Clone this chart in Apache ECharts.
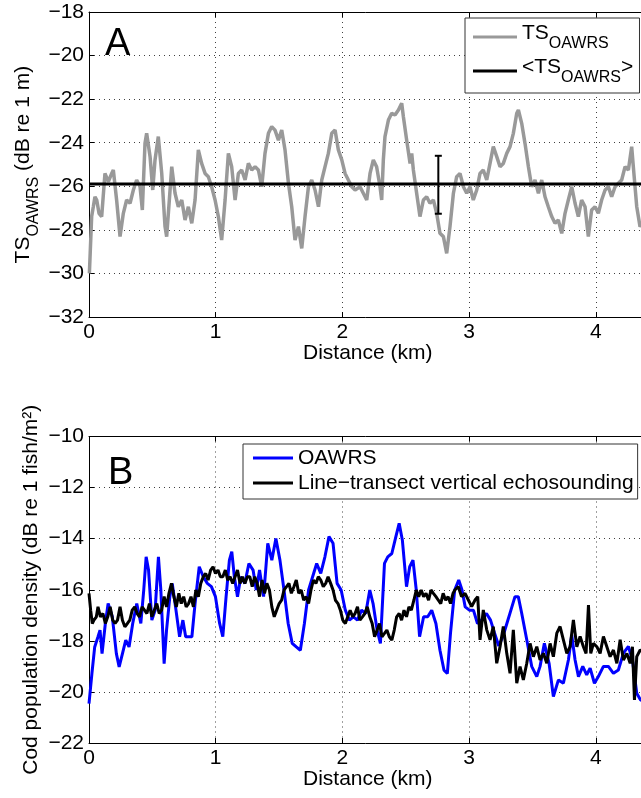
<!DOCTYPE html>
<html>
<head>
<meta charset="utf-8">
<script src="https://cdn.jsdelivr.net/npm/echarts@6/dist/echarts.min.js"></script>
<style>
html,body{margin:0;padding:0;background:#fff;}
#c{width:641px;height:798px;}
</style>
</head>
<body>
<div id="c"></div>
<script>
// ---------- Panel A: TS_OAWRS along the transect ----------
const tsKm = [0.003,0.021,0.034,0.047,0.061,0.079,0.100,0.126,0.153,0.179,0.192,0.218,0.245,0.271,0.297,0.324,0.350,0.376,0.403,0.421,0.442,0.455,0.482,0.503,0.521,0.547,0.574,0.600,0.613,0.634,0.653,0.679,0.705,0.732,0.758,0.784,0.811,0.837,0.863,0.889,0.916,0.942,0.968,0.995,1.021,1.047,1.074,1.100,1.126,1.153,1.179,1.205,1.232,1.258,1.284,1.311,1.337,1.363,1.389,1.416,1.442,1.468,1.495,1.521,1.547,1.574,1.600,1.626,1.653,1.679,1.705,1.732,1.758,1.784,1.811,1.837,1.863,1.889,1.916,1.942,1.968,1.995,2.021,2.047,2.074,2.100,2.139,2.165,2.192,2.218,2.244,2.270,2.297,2.310,2.323,2.336,2.363,2.389,2.415,2.442,2.468,2.481,2.507,2.534,2.547,2.560,2.586,2.612,2.639,2.665,2.691,2.718,2.744,2.770,2.797,2.823,2.849,2.876,2.902,2.928,2.955,2.981,3.007,3.033,3.060,3.086,3.112,3.139,3.165,3.191,3.218,3.244,3.270,3.297,3.323,3.349,3.376,3.389,3.415,3.441,3.468,3.494,3.520,3.547,3.573,3.599,3.625,3.652,3.678,3.704,3.731,3.757,3.783,3.810,3.836,3.862,3.888,3.915,3.941,3.967,3.994,4.020,4.046,4.073,4.099,4.125,4.152,4.178,4.204,4.231,4.257,4.283,4.296,4.323,4.349,4.375,4.400];
const tsDb = [-30.0,-27.39,-26.94,-26.48,-26.63,-27.24,-27.39,-25.41,-25.79,-25.41,-25.25,-26.63,-28.31,-27.24,-26.63,-26.78,-26.17,-25.71,-26.02,-27.09,-24.03,-23.57,-24.64,-26.17,-24.79,-23.72,-25.41,-27.85,-28.31,-26.63,-25.10,-26.32,-26.94,-26.63,-27.55,-26.94,-27.70,-26.63,-24.33,-24.95,-25.41,-25.56,-26.02,-26.63,-27.39,-28.47,-26.63,-24.49,-25.10,-26.63,-25.41,-25.25,-25.71,-24.95,-25.25,-25.10,-25.25,-26.02,-24.49,-23.57,-23.26,-23.42,-23.88,-23.42,-24.33,-25.86,-26.94,-28.47,-27.85,-28.85,-27.39,-26.02,-25.71,-26.17,-26.94,-25.71,-25.10,-24.49,-23.57,-23.42,-24.33,-24.79,-25.41,-25.71,-26.02,-26.17,-26.02,-26.32,-26.63,-25.41,-24.79,-25.10,-26.02,-26.63,-24.79,-23.72,-22.96,-22.65,-22.73,-22.50,-22.19,-22.80,-23.88,-24.95,-24.49,-25.25,-26.32,-27.39,-26.63,-26.48,-26.78,-26.63,-27.24,-28.16,-28.31,-29.08,-27.85,-26.32,-25.56,-25.41,-26.02,-26.32,-26.02,-26.63,-26.17,-25.41,-25.25,-25.71,-24.95,-24.18,-24.64,-25.10,-24.95,-24.49,-24.18,-23.57,-22.65,-22.50,-23.11,-24.03,-25.10,-26.02,-25.71,-26.32,-25.71,-26.48,-26.94,-27.39,-27.70,-27.55,-28.16,-27.24,-26.63,-26.02,-26.78,-27.39,-26.63,-26.94,-28.31,-27.09,-26.94,-27.24,-26.63,-26.17,-26.02,-26.48,-26.02,-25.86,-25.71,-25.10,-25.25,-24.18,-25.10,-26.94,-27.85,-27.60,-27.40];
const tsMean = -25.9;
const errBar = [2.757, -27.26, -24.6]; // x, low, high

// ---------- Panel B: cod population density ----------
const oawrsKm = [0.000,0.023,0.045,0.071,0.087,0.103,0.129,0.151,0.184,0.216,0.238,0.264,0.290,0.316,0.345,0.377,0.409,0.432,0.451,0.470,0.496,0.522,0.548,0.567,0.593,0.612,0.638,0.657,0.683,0.715,0.741,0.763,0.786,0.812,0.837,0.870,0.902,0.934,0.966,0.998,1.031,1.056,1.082,1.108,1.127,1.147,1.172,1.198,1.230,1.262,1.295,1.320,1.346,1.378,1.411,1.443,1.475,1.507,1.539,1.572,1.604,1.636,1.668,1.700,1.733,1.765,1.797,1.829,1.862,1.894,1.926,1.958,1.990,2.023,2.055,2.087,2.119,2.151,2.184,2.216,2.242,2.274,2.300,2.332,2.358,2.390,2.422,2.448,2.473,2.506,2.531,2.557,2.583,2.609,2.641,2.673,2.705,2.738,2.770,2.802,2.828,2.853,2.886,2.918,2.944,2.969,3.002,3.034,3.066,3.098,3.137,3.169,3.201,3.234,3.266,3.298,3.330,3.362,3.388,3.415,3.455,3.494,3.534,3.560,3.594,3.631,3.665,3.705,3.744,3.784,3.810,3.836,3.863,3.897,3.928,3.955,3.989,4.020,4.060,4.099,4.139,4.178,4.218,4.257,4.289,4.323,4.352,4.400];
const oawrsDb = [-20.46,-19.28,-18.24,-17.84,-17.58,-18.50,-17.32,-16.54,-17.06,-18.50,-19.02,-18.50,-17.97,-18.24,-17.32,-16.54,-17.32,-16.01,-14.71,-15.23,-17.19,-16.80,-14.71,-16.01,-18.89,-17.58,-16.27,-15.75,-16.67,-17.84,-17.19,-17.84,-17.84,-17.84,-16.54,-15.10,-15.49,-15.75,-15.88,-16.27,-17.32,-17.84,-16.27,-14.84,-14.51,-15.49,-16.27,-15.49,-15.75,-14.97,-15.23,-16.01,-15.23,-16.27,-14.18,-14.84,-13.99,-14.84,-16.01,-17.32,-18.10,-18.24,-18.37,-17.32,-16.01,-15.49,-14.97,-15.36,-14.71,-13.92,-14.18,-15.75,-16.01,-16.80,-17.19,-17.06,-17.19,-16.80,-16.93,-16.01,-16.54,-17.58,-18.10,-14.97,-14.71,-14.58,-13.92,-13.40,-14.05,-15.88,-15.10,-14.84,-16.01,-17.84,-17.06,-17.06,-16.80,-17.32,-18.37,-19.15,-19.28,-17.71,-16.01,-15.62,-16.01,-16.67,-16.80,-16.80,-17.32,-17.19,-16.93,-17.19,-17.70,-18.20,-17.84,-17.32,-16.80,-16.27,-16.27,-16.92,-17.96,-19.00,-19.40,-19.00,-18.10,-18.88,-20.18,-19.53,-19.66,-18.74,-17.77,-18.74,-19.40,-19.00,-19.33,-19.07,-19.66,-19.40,-19.00,-19.00,-19.27,-19.14,-18.48,-18.22,-18.74,-20.05,-20.31,-20.40];

const echoKm = [0.000,0.013,0.026,0.039,0.058,0.071,0.090,0.110,0.129,0.148,0.167,0.187,0.206,0.225,0.245,0.264,0.283,0.303,0.322,0.341,0.361,0.380,0.399,0.419,0.438,0.457,0.477,0.496,0.515,0.535,0.554,0.573,0.593,0.612,0.631,0.651,0.670,0.689,0.709,0.728,0.747,0.767,0.786,0.805,0.824,0.844,0.863,0.882,0.902,0.921,0.940,0.960,0.979,0.998,1.018,1.037,1.056,1.076,1.095,1.114,1.134,1.153,1.172,1.192,1.211,1.230,1.250,1.269,1.288,1.308,1.327,1.346,1.366,1.385,1.404,1.424,1.443,1.462,1.481,1.501,1.520,1.539,1.559,1.578,1.597,1.617,1.636,1.655,1.675,1.694,1.713,1.733,1.752,1.771,1.791,1.810,1.829,1.849,1.868,1.887,1.907,1.926,1.945,1.965,1.984,2.003,2.023,2.042,2.061,2.081,2.100,2.119,2.138,2.158,2.177,2.196,2.216,2.235,2.254,2.274,2.293,2.312,2.332,2.351,2.370,2.390,2.409,2.428,2.448,2.467,2.486,2.506,2.525,2.544,2.564,2.583,2.602,2.622,2.641,2.660,2.680,2.699,2.718,2.738,2.757,2.776,2.795,2.815,2.834,2.853,2.873,2.889,2.915,2.940,2.968,2.994,3.020,3.047,3.068,3.086,3.112,3.139,3.165,3.191,3.218,3.244,3.270,3.297,3.323,3.349,3.376,3.402,3.428,3.455,3.481,3.507,3.534,3.560,3.586,3.613,3.639,3.665,3.692,3.718,3.744,3.771,3.797,3.823,3.850,3.876,3.902,3.923,3.942,3.960,3.981,4.008,4.034,4.060,4.087,4.113,4.139,4.166,4.192,4.218,4.245,4.271,4.289,4.305,4.323,4.350,4.400];
const echoDb = [-16.14,-16.80,-17.32,-17.19,-17.06,-16.67,-17.06,-16.93,-17.32,-17.06,-16.67,-17.19,-17.32,-17.19,-16.67,-17.19,-17.45,-17.32,-17.19,-16.80,-16.67,-16.93,-17.06,-16.67,-16.80,-16.93,-16.54,-17.06,-16.80,-16.54,-16.93,-16.80,-16.27,-16.67,-16.14,-15.75,-16.27,-16.67,-16.14,-16.54,-16.27,-16.67,-16.54,-16.27,-16.67,-16.01,-16.27,-15.75,-15.49,-15.36,-15.62,-15.23,-15.10,-15.36,-15.23,-15.49,-15.49,-15.23,-15.62,-15.49,-15.75,-15.49,-15.23,-15.75,-15.49,-15.75,-15.49,-15.49,-15.88,-15.49,-15.75,-16.27,-15.62,-16.14,-15.75,-16.01,-16.67,-17.06,-16.80,-16.54,-16.41,-16.01,-15.88,-15.75,-16.14,-15.88,-15.62,-16.14,-16.01,-16.41,-16.27,-16.54,-16.01,-15.62,-15.75,-15.49,-15.62,-15.88,-15.75,-15.49,-15.75,-16.01,-16.41,-16.54,-16.80,-17.19,-17.32,-17.06,-16.80,-17.06,-16.93,-16.67,-17.19,-17.06,-16.93,-16.67,-17.06,-17.32,-17.84,-17.58,-17.32,-17.84,-17.71,-17.58,-17.84,-17.97,-17.58,-17.06,-16.93,-17.19,-16.80,-17.06,-16.67,-16.80,-16.41,-16.01,-16.27,-16.01,-16.27,-16.14,-16.41,-16.01,-16.14,-16.27,-16.41,-16.54,-16.14,-16.41,-16.27,-16.54,-16.14,-16.00,-15.88,-16.27,-16.14,-16.40,-16.66,-16.40,-16.27,-17.96,-16.79,-17.57,-17.96,-17.44,-18.88,-18.23,-17.44,-18.49,-19.27,-17.57,-19.66,-19.01,-19.53,-18.88,-18.10,-18.62,-18.23,-18.75,-18.49,-18.88,-18.10,-18.62,-17.70,-17.44,-17.96,-18.49,-18.23,-17.18,-18.23,-17.83,-18.23,-18.49,-16.60,-18.49,-18.10,-18.23,-18.49,-17.83,-18.23,-18.62,-18.36,-18.88,-17.96,-18.75,-18.49,-18.88,-18.23,-20.31,-18.62,-18.36,-18.50];

// ---------- axes / labels ----------
const xTicks = [0, 1, 2, 3, 4];
const yTicksA = [-32, -30, -28, -26, -24, -22, -20, -18];
const yTicksB = [-22, -20, -18, -16, -14, -12, -10];
const xTitle = 'Distance (km)';
const yTitleB = 'Cod population density (dB re 1 fish/m²)';
const nameTS = 'TS_OAWRS';
const nameMean = '<TS_OAWRS>';
const nameOAWRS = 'OAWRS';
const nameEcho = 'Line\u2212transect vertical echosounding';

const FONT = '"Liberation Sans", Arial, Helvetica, sans-serif';
const FS = 21;
const zip = (a, b) => a.map((v, i) => [v, b[i]]);
const minus = v => String(v).replace('-', '\u2212');

function xAxes(grid) {
  const base = {
    gridIndex: grid, type: 'value', min: 0, max: 4.4, interval: 1,
    axisLine: { show: true, onZero: false, lineStyle: { color: '#000', width: 1 } },
    axisTick: { show: true, inside: true, length: 5, lineStyle: { color: '#000' } }
  };
  return [
    Object.assign({}, base, {
      position: 'bottom',
      axisLabel: { color: '#000', fontSize: FS, fontFamily: FONT, margin: 5,
        formatter: v => xTicks.includes(v) ? minus(v) : '' },
      splitLine: { show: true, lineStyle: { color: '#000', type: [1, 4], opacity: 0.75 } },
      name: xTitle, nameLocation: 'middle', nameGap: 26, nameMoveOverlap: false,
      nameTextStyle: { color: '#000', fontSize: FS, fontFamily: FONT }
    }),
    Object.assign({}, base, { position: 'top', axisLabel: { show: false }, splitLine: { show: false } })
  ];
}

function yAxis(grid, ticks, name, nameGap, rich) {
  return {
    gridIndex: grid, type: 'value', min: ticks[0], max: ticks[ticks.length - 1], interval: 2,
    position: 'left',
    axisLine: { show: true, onZero: false, lineStyle: { color: '#000', width: 1 } },
    axisTick: { show: true, inside: true, length: 5, lineStyle: { color: '#000' } },
    axisLabel: { color: '#000', fontSize: FS, fontFamily: FONT, margin: 5, formatter: minus },
    splitLine: { show: true, lineStyle: { color: '#000', type: [1, 4], opacity: 0.75 } },
    name: name, nameLocation: 'middle', nameRotate: 90, nameGap: nameGap, nameMoveOverlap: false,
    nameTextStyle: Object.assign({ color: '#000', fontSize: FS, fontFamily: FONT }, rich ? { rich } : {})
  };
}

// rich styles: main text on top, smaller subscript at the bottom, spacer sets line height
const subRich = {
  m: { fontSize: FS, lineHeight: FS, fontFamily: FONT, color: '#000', verticalAlign: 'top' },
  s: { fontSize: 16, lineHeight: 16, fontFamily: FONT, color: '#000', verticalAlign: 'bottom' },
  z: { fontSize: 1, lineHeight: 29, fontFamily: FONT, color: '#000' }
};

const chart = echarts.init(document.getElementById('c'), null, { renderer: 'canvas' });
chart.setOption({
  animation: false,
  backgroundColor: '#fff',
  textStyle: { fontFamily: FONT },
  grid: [
    { left: 89, top: 12, width: 557.5, height: 305, outerBoundsMode: 'none', containLabel: false },
    { left: 89, top: 436.5, width: 557.5, height: 306.5, outerBoundsMode: 'none', containLabel: false }
  ],
  xAxis: xAxes(0).concat(xAxes(1)),
  yAxis: [
    yAxis(0, yTicksA, '{m|TS}{s|OAWRS}{m| (dB re 1 m)}{z| }', 47, subRich),
    yAxis(1, yTicksB, yTitleB, 47, null)
  ],
  legend: [
    {
      data: [nameTS, nameMean], orient: 'vertical', left: 465, top: 18,
      padding: [4.5, 6, 7.5, 8], itemGap: 5, itemWidth: 44, itemHeight: 3,
      icon: 'path://M0,0L44,0L44,3L0,3Z',
      backgroundColor: '#fff', borderColor: '#333', borderWidth: 1, borderRadius: 0,
      selectedMode: false,
      formatter: n => n === nameTS ? '{m|TS}{s|OAWRS}{z| }' : '{m|<TS}{s|OAWRS}{m|>}{z| }',
      textStyle: { rich: subRich }
    },
    {
      data: [nameOAWRS, nameEcho], orient: 'vertical', left: 243, top: 444,
      padding: [3.5, 4, 5.5, 10], itemGap: 4, itemWidth: 40, itemHeight: 3,
      icon: 'path://M0,0L40,0L40,3L0,3Z',
      backgroundColor: '#fff', borderColor: '#333', borderWidth: 1, borderRadius: 0,
      selectedMode: false,
      textStyle: { color: '#000', fontSize: FS, lineHeight: FS, fontFamily: FONT }
    }
  ],
  graphic: [
    { type: 'text', left: 105, top: 25.5, style: { text: 'A', font: '38px ' + FONT, fill: '#000' } },
    { type: 'text', left: 108, top: 455, style: { text: 'B', font: '38px ' + FONT, fill: '#000' } }
  ],
  series: [
    { name: nameTS, type: 'line', xAxisIndex: 0, yAxisIndex: 0, data: zip(tsKm, tsDb),
      symbol: 'none', showSymbol: false, lineStyle: { color: '#999999', width: 3.5 }, itemStyle: { color: '#999999' }, z: 2 },
    { name: nameMean, type: 'line', xAxisIndex: 0, yAxisIndex: 0, data: [[0, tsMean], [4.4, tsMean]],
      symbol: 'none', showSymbol: false, lineStyle: { color: '#000', width: 3 }, itemStyle: { color: '#000' }, z: 3 },
    { name: 'errorbar', type: 'custom', xAxisIndex: 0, yAxisIndex: 0, data: [errBar], z: 4,
      encode: { x: 0, y: [1, 2] },
      renderItem: (params, api) => {
        const x = api.value(0);
        const lo = api.coord([x, api.value(1)]);
        const hi = api.coord([x, api.value(2)]);
        const w = 3.5;
        const st = { stroke: '#000', lineWidth: 2 };
        return { type: 'group', children: [
          { type: 'line', shape: { x1: lo[0], y1: lo[1], x2: hi[0], y2: hi[1] }, style: st },
          { type: 'line', shape: { x1: lo[0] - w, y1: lo[1], x2: lo[0] + w, y2: lo[1] }, style: st },
          { type: 'line', shape: { x1: hi[0] - w, y1: hi[1], x2: hi[0] + w, y2: hi[1] }, style: st }
        ]};
      } },
    { name: nameOAWRS, type: 'line', xAxisIndex: 2, yAxisIndex: 1, data: zip(oawrsKm, oawrsDb),
      symbol: 'none', showSymbol: false, lineStyle: { color: '#0000ff', width: 3 }, itemStyle: { color: '#0000ff' }, z: 2 },
    { name: nameEcho, type: 'line', xAxisIndex: 2, yAxisIndex: 1, data: zip(echoKm, echoDb),
      symbol: 'none', showSymbol: false, lineStyle: { color: '#000', width: 3 }, itemStyle: { color: '#000' }, z: 3 }
  ]
});
</script>
</body>
</html>
